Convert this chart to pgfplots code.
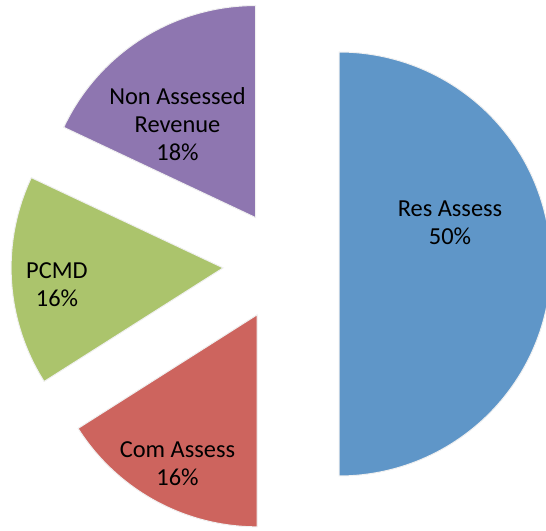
\documentclass[border=0pt]{standalone}
\usepackage{pgfplots}
\pgfplotsset{compat=1.18}
\usepackage{pgfplotstable}
\usepackage{fontspec}
\setmainfont{Carlito}
\definecolor{resblue}{HTML}{5F96C8}
\definecolor{comred}{HTML}{CD645E}
\definecolor{pcmdgreen}{HTML}{ABC46C}
\definecolor{nonpurple}{HTML}{8E76B0}

% slice: start (%), value (%), colour, explode offset
\newcommand{\pieslice}[4]{%
  \pgfmathsetmacro\aA{90-3.6*#1}%
  \pgfmathsetmacro\aB{90-3.6*(#1+#2)}%
  \pgfmathsetmacro\aM{(\aA+\aB)/2}%
  \pgfmathsetmacro\vx{285+#4*cos(\aM)}%
  \pgfmathsetmacro\vy{267+#4*sin(\aM)}%
  \edef\temp{\noexpand\addplot[fill=#3, draw=white!88!gray, line width=1bp,
    domain=\aB:\aA, samples=120, variable=\noexpand\t]
    ({\vx+212*cos(\noexpand\t)},{\vy+212*sin(\noexpand\t)})
    -- (axis cs:\vx,\vy) -- cycle;}%
  \temp
}

\begin{document}
\begin{tikzpicture}
\begin{axis}[
    width=546bp, height=531bp, scale only axis,
    xmin=0, xmax=546, ymin=0, ymax=531,
    hide axis, clip=true, clip bounding box=upper bound,
]
\pieslice{0}{50}{resblue}{54}
\pieslice{50}{16}{comred}{58}
\pieslice{66}{16}{pcmdgreen}{62}
\pieslice{82}{18}{nonpurple}{55}
\begin{scope}[every node/.style={font=\fontsize{24.5}{28}\selectfont, align=center, inner sep=0pt}]
\node at (axis cs:450,308) {Res Assess\\50\%};
\node at (axis cs:177.5,67) {Com Assess\\16\%};
\node at (axis cs:57,246) {PCMD\\16\%};
\node at (axis cs:177.5,407) {Non Assessed\\Revenue\\18\%};
\end{scope}
\end{axis}
\pgfresetboundingbox
\useasboundingbox (current axis.south west) rectangle (current axis.north east);
\end{tikzpicture}
\end{document}
